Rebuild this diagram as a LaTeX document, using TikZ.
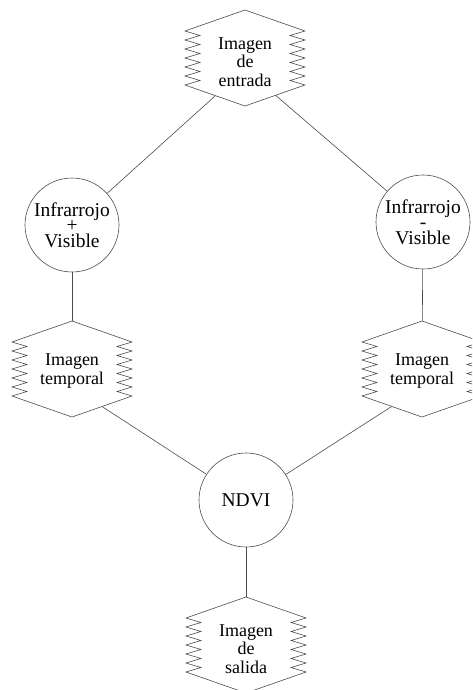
\documentclass[tikz,border=0pt]{standalone}
\usepackage{fontspec}
\setmainfont{Liberation Serif}
\usetikzlibrary{backgrounds}

\tikzset{
  link/.style={draw=black!70, line width=0.6pt},
  roundbox/.style={circle, draw=black!70, line width=0.6pt, fill=white,
    minimum size=94pt, inner sep=0pt, align=center,
    font=\fontsize{19.5}{15.5}\selectfont},
  hextext/.style={inner sep=0pt, align=center,
    font=\fontsize{18}{18.5}\selectfont},
  % hexagon with zigzag flanks, centred on the pic position
  zzhex/.pic={
    \draw[draw=black!70, line width=0.6pt, fill=white]
      (0,-48) -- (-60,-27)
      \foreach \i in {1,...,6} { -- (-45,{-27+9*\i-4.5}) -- (-60,{-27+9*\i}) }
      -- (0,48) -- (60,27)
      \foreach \i in {1,...,6} { -- (45,{27-9*\i+4.5}) -- (60,{27-9*\i}) }
      -- cycle;
  }
}

\begin{document}
\begin{tikzpicture}[x=1pt, y=-1pt]
  \useasboundingbox (0,0) rectangle (472,690);
  \clip (0,0) rectangle (472,690);

  % input image
  \pic at (245,58) {zzhex};
  \node[hextext] (entrada) at (245,62) {Imagen\\de\\entrada};
  \coordinate (entrada-c) at (245,69);

  % band operations
  \node[roundbox] (suma) at (72,225) {Infrarrojo\\+\\Visible};
  \node[roundbox] (resta) at (423,222) {Infrarrojo\\-\\Visible};

  % temporary images
  \pic at (72,369) {zzhex};
  \node[hextext] (temp1) at (72,371) {Imagen\\temporal};
  \coordinate (temp1-c) at (72,387);

  \pic at (422,369) {zzhex};
  \node[hextext] (temp2) at (422,371) {Imagen\\temporal};
  \coordinate (temp2-c) at (422,387);

  % index
  \node[roundbox] (ndvi) at (246,500) {NDVI};

  % output image
  \pic at (246,645) {zzhex};
  \node[hextext] (salida) at (246,649) {Imagen\\de\\salida};

  \begin{pgfonlayer}{background}
    \fill[white] (0,0) rectangle (472,690);
    \draw[link] (entrada-c) -- (suma);
    \draw[link] (entrada-c) -- (resta);
    \draw[link] (suma) -- (temp1);
    \draw[link] (resta) -- (temp2);
    \draw[link] (temp1-c) -- (ndvi);
    \draw[link] (temp2-c) -- (ndvi);
    \draw[link] (ndvi) -- (salida);
  \end{pgfonlayer}
\end{tikzpicture}
\end{document}
